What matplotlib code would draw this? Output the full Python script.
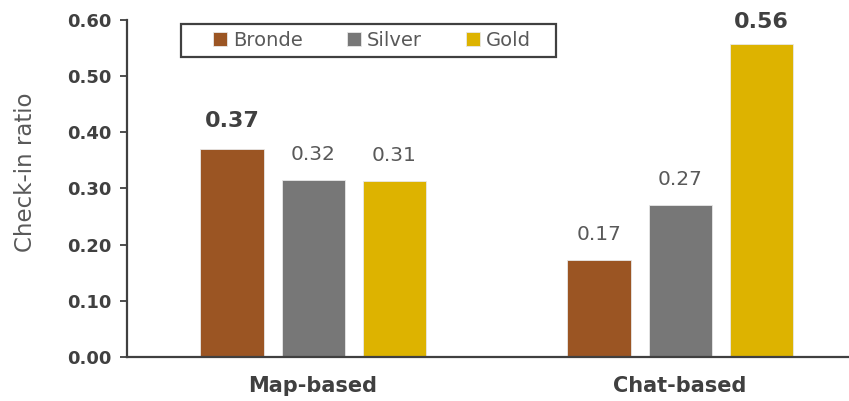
import matplotlib
matplotlib.use("Agg")
import matplotlib.pyplot as plt
from matplotlib.patches import Rectangle
import numpy as np

plt.rcParams['font.family'] = ['DejaVu Sans']

groups = ["Map-based", "Chat-based"]
series = ["Bronde", "Silver", "Gold"]
values = {
    "Bronde": [0.37, 0.173],
    "Silver": [0.316, 0.271],
    "Gold": [0.314, 0.557],
}
colors = {"Bronde": "#9B5523", "Silver": "#777777", "Gold": "#DDB300"}
yticks = [0.0, 0.1, 0.2, 0.3, 0.4, 0.5, 0.6]

TEXT = "#404040"
SOFT = "#595959"

fig = plt.figure(figsize=(8.49, 4.01), dpi=100)
ax = fig.add_axes([127 / 849, 44 / 401, 722 / 849, 337 / 401])

x = np.arange(len(groups))
step = 0.221
width = 0.172

group_max = [max(values[s][i] for s in series) for i in range(len(groups))]
top_limit = 0.6

for k, s in enumerate(series):
    pos = x + (k - 1) * step
    bars = ax.bar(pos, values[s], width, color=colors[s], label=s,
                  edgecolor="#e8e8e8", linewidth=0.6, zorder=2)
    for i, b in enumerate(bars):
        v = values[s][i]
        is_max = v == group_max[i]
        if is_max:
            # keep the highest label inside the figure
            off = 8.5 if v > 0.5 else 13
        else:
            off = 11.5
        ax.annotate(f"{v:.2f}", (b.get_x() + b.get_width() / 2, v),
                    xytext=(0, off), textcoords="offset points",
                    ha="center", va="bottom",
                    fontsize=16 if is_max else 14.5,
                    fontweight="bold" if is_max else "normal",
                    color=TEXT if is_max else SOFT,
                    annotation_clip=False)

ax.set_xlim(-0.507, 1.46)
ax.set_ylim(0, top_limit)
ax.set_yticks(yticks)
ax.set_yticklabels([f"{t:.2f}" for t in yticks], fontsize=13,
                   fontweight="bold", color=TEXT)
ax.set_xticks(x)
ax.set_xticklabels(groups, fontsize=15, fontweight="bold", color=TEXT)
ax.tick_params(axis="x", length=0, pad=14)
ax.tick_params(axis="y", length=5, width=1.3, color=TEXT, pad=6)
ax.set_ylabel("Check-in ratio", fontsize=16.5, color=SOFT)
ax.yaxis.set_label_coords(-0.125, 0.547)

for side in ("top", "right"):
    ax.spines[side].set_visible(False)
for side in ("left", "bottom"):
    ax.spines[side].set_color(TEXT)
    ax.spines[side].set_linewidth(1.6)

# legend frame drawn as a plain box in figure pixels
box = Rectangle((181 / 849, (401 - 57) / 401), 375 / 849, 33 / 401,
                transform=fig.transFigure, fill=True, facecolor="white",
                edgecolor=TEXT, linewidth=1.6, zorder=5)
fig.patches.append(box)

leg = fig.legend(loc="center", ncol=3,
                 bbox_to_anchor=(372 / 849, (401 - 40.5) / 401),
                 fontsize=14, handlelength=0.7, handleheight=0.7,
                 handletextpad=0.3, columnspacing=2.3,
                 frameon=False, borderpad=0, borderaxespad=0)
leg.set_zorder(6)
for t in leg.get_texts():
    t.set_color(SOFT)

fig.savefig("out.png", dpi=100)
